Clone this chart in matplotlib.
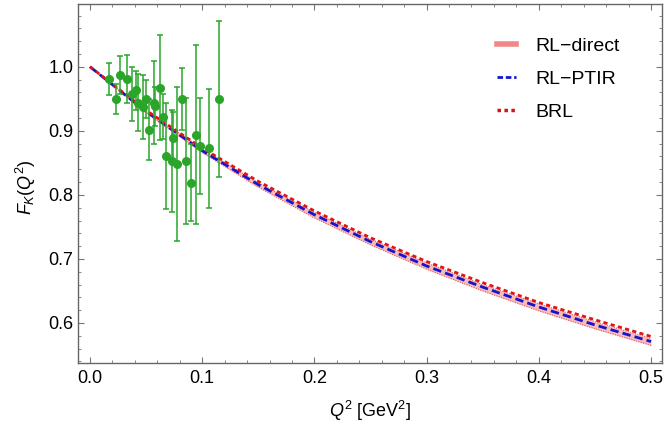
import matplotlib
matplotlib.use("Agg")
import matplotlib.pyplot as plt
from matplotlib.ticker import MultipleLocator

plt.rcParams["font.family"] = ["Liberation Sans", "DejaVu Sans"]
plt.rcParams["mathtext.fontset"] = "custom"
plt.rcParams["mathtext.rm"] = "Liberation Sans"
plt.rcParams["mathtext.it"] = "Liberation Sans:italic"

# model curves
q2_curve = [0.0, 0.05, 0.10, 0.15, 0.20, 0.25, 0.30, 0.35, 0.40, 0.45, 0.50]
direct_lo = [1.000, 0.928, 0.866, 0.812, 0.764, 0.722, 0.684, 0.650, 0.619, 0.591, 0.565]
direct_hi = [1.000, 0.932, 0.872, 0.819, 0.773, 0.731, 0.694, 0.660, 0.630, 0.602, 0.576]
ptir = [1.000, 0.930, 0.869, 0.816, 0.769, 0.727, 0.689, 0.656, 0.625, 0.597, 0.571]
brl = [1.000, 0.932, 0.873, 0.821, 0.775, 0.733, 0.696, 0.663, 0.632, 0.605, 0.579]

# experimental points
q2_data = [0.0172, 0.0229, 0.0270, 0.0327, 0.0374, 0.0410, 0.0425, 0.0472, 0.0496,
           0.0529, 0.0573, 0.0580, 0.0627, 0.0648, 0.0677, 0.0728, 0.0740, 0.0775,
           0.0820, 0.0853, 0.0903, 0.0947, 0.0980, 0.1060, 0.1147]
fk_data = [0.981, 0.950, 0.987, 0.981, 0.958, 0.963, 0.944, 0.937, 0.950,
           0.902, 0.944, 0.938, 0.967, 0.922, 0.861, 0.853, 0.889, 0.848,
           0.950, 0.853, 0.819, 0.894, 0.876, 0.873, 0.950]
fk_err = [0.025, 0.023, 0.030, 0.037, 0.042, 0.030, 0.045, 0.050, 0.030,
          0.047, 0.065, 0.030, 0.082, 0.035, 0.083, 0.080, 0.040, 0.120,
          0.048, 0.099, 0.060, 0.140, 0.075, 0.093, 0.122]

fig = plt.figure(figsize=(6.67, 4.25), dpi=100)
ax = fig.add_axes([78 / 667, 1 - 362.7 / 425, 584 / 667, 358.7 / 425])

ax.fill_between(q2_curve, direct_lo, direct_hi, color="#f4a6a6", alpha=0.75, lw=0)
ax.plot(q2_curve, direct_lo, color="#ee5555", lw=0.8, ls=(0, (1, 1.2)))
ax.plot(q2_curve, direct_hi, color="#ee5555", lw=0.8, ls=(0, (1, 1.2)))
ax.plot(q2_curve, ptir, color="#1515cc", lw=2, ls=(0, (3, 1.5)))
ax.plot(q2_curve, brl, color="#dd1515", lw=2, ls=(0, (1.5, 1.2)))

ax.errorbar(q2_data, fk_data, yerr=fk_err, fmt="o", color="#2aa52a", ms=5.5,
            elinewidth=1.1, capsize=2.5, capthick=1.1, zorder=5)

# legend handles only
h1, = ax.plot([], [], color="#f08888", lw=4)
h2, = ax.plot([], [], color="#1515cc", lw=2, ls=(0, (2, 1)))
h3, = ax.plot([], [], color="#cc1515", lw=2.5, ls=(0, (1, 1)))
fig.legend([h1, h2, h3], ["RL\u2212direct", "RL\u2212PTIR", "BRL"], loc="upper left",
           bbox_to_anchor=(487 / 667, 0.936), frameon=False, fontsize=14,
           handlelength=1.0, handletextpad=1.0, labelspacing=0.8, borderpad=0)

ax.set_xlim(-0.0107, 0.5098)
ax.set_ylim(0.538, 1.098)
ax.xaxis.set_major_locator(MultipleLocator(0.1))
ax.xaxis.set_minor_locator(MultipleLocator(0.02))
ax.yaxis.set_major_locator(MultipleLocator(0.1))
ax.yaxis.set_minor_locator(MultipleLocator(0.02))
ax.xaxis.set_major_formatter(lambda v, p: f"{v:.1f}")
ax.yaxis.set_major_formatter(lambda v, p: f"{v:.1f}")
ax.tick_params(which="both", direction="in", top=True, right=True, color="#777777", labelsize=13)
ax.tick_params(which="major", length=4.5, width=0.8)
ax.tick_params(which="minor", length=2.5, width=0.6)
ax.tick_params(axis="x", pad=5.5)
ax.tick_params(axis="y", pad=3.5)
for s in ax.spines.values():
    s.set_color("#666666")
    s.set_linewidth(1.0)

ax.set_xlabel(r"$Q^2$ [GeV$^2$]", fontsize=13)
ax.set_ylabel(r"$F_K(Q^2)$", fontsize=13)
ax.xaxis.set_label_coords(0.5, -0.1)
ax.yaxis.set_label_coords(-0.068, 0.49)

fig.savefig("out.png", dpi=100)
